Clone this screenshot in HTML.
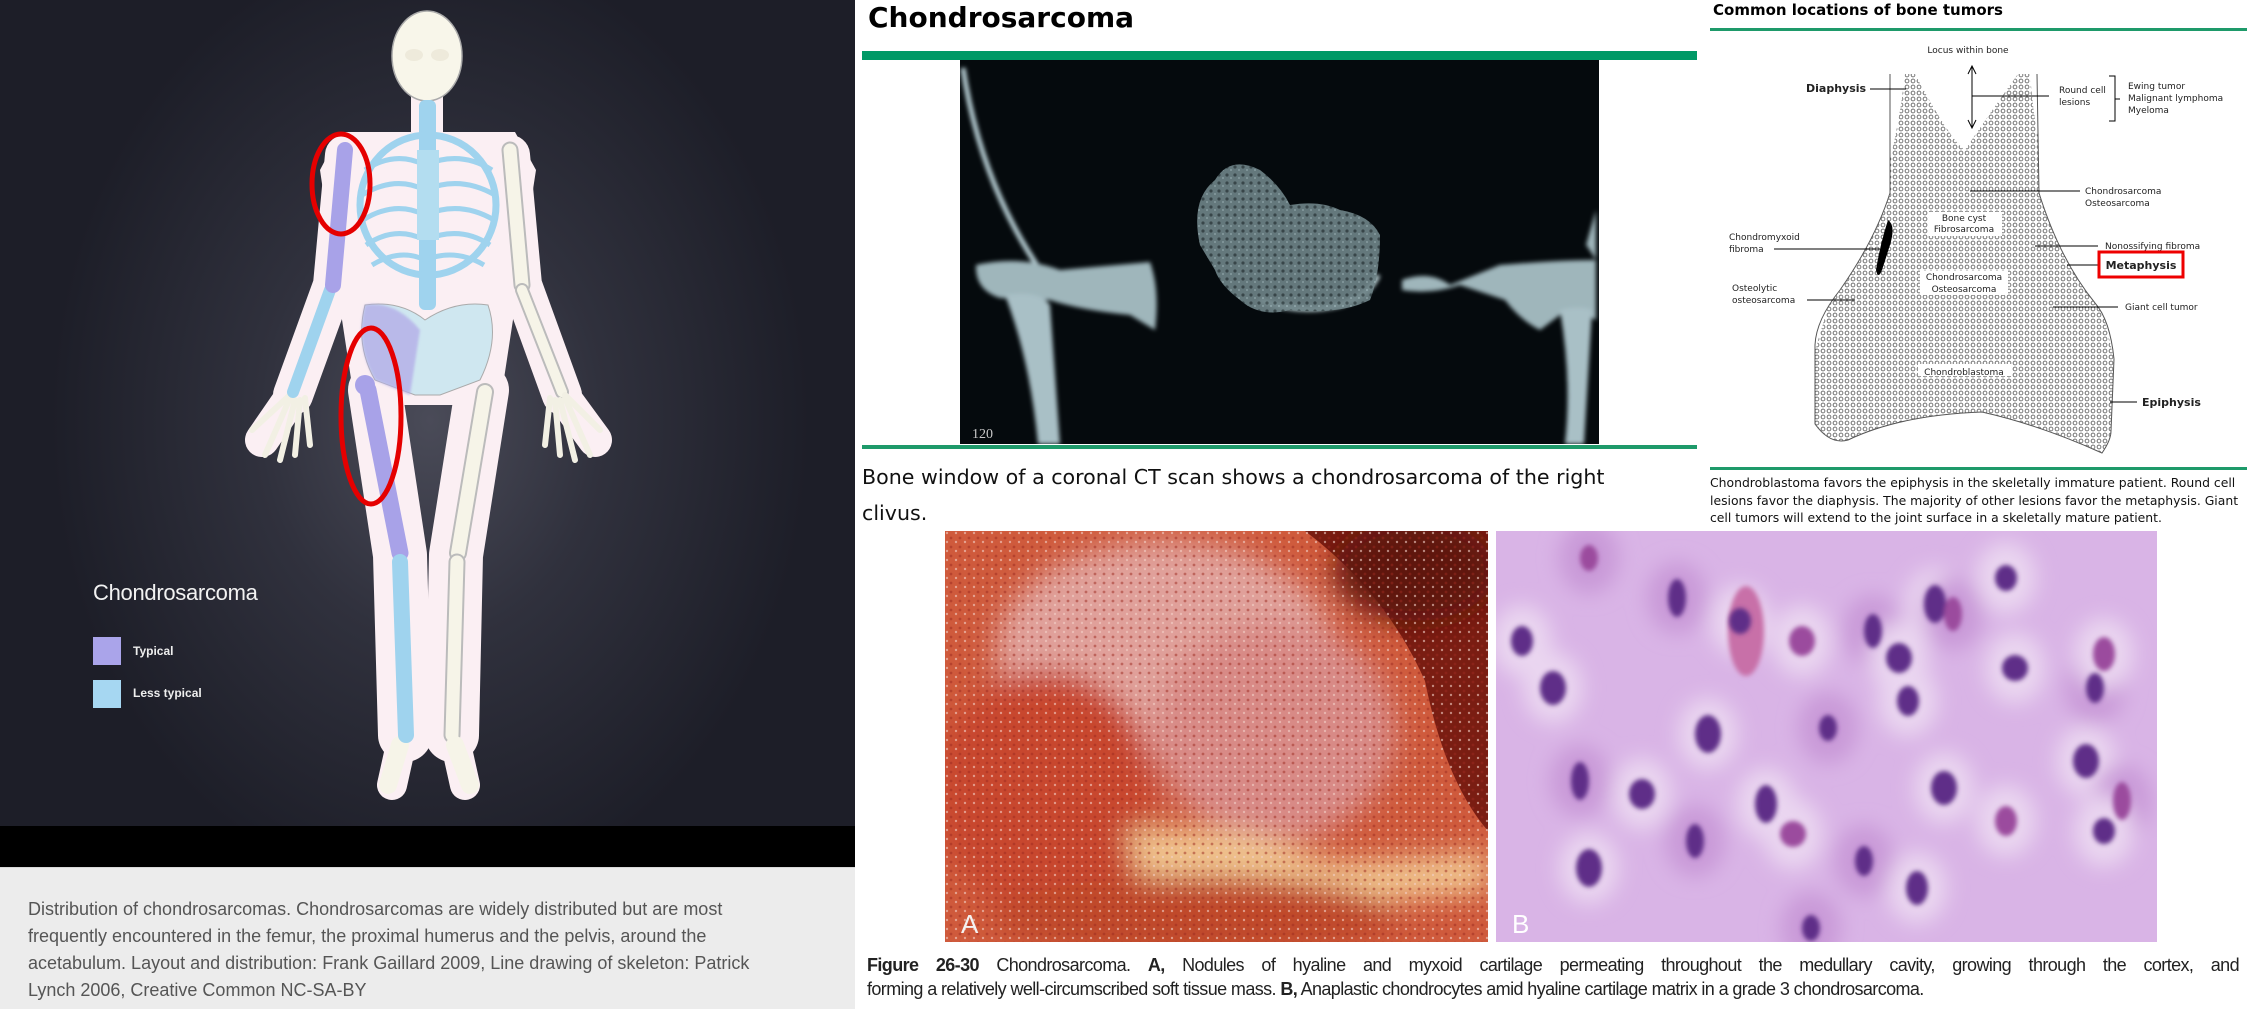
<!DOCTYPE html>
<html><head><meta charset="utf-8">
<style>
html,body{margin:0;padding:0;width:2253px;height:1009px;overflow:hidden;background:#fff;position:relative;font-family:"Liberation Sans",sans-serif}
.abs{position:absolute}
.vd{font-family:"DejaVu Sans","Liberation Sans",sans-serif}
</style></head><body>

<!-- LEFT PANEL -->
<div class="abs" style="left:0;top:0;width:855px;height:826px;background:radial-gradient(ellipse 380px 480px at 430px 420px,#4a4b58 0%,#30313d 45%,#1d1e28 100%)">
<svg width="855" height="826">
 <defs><filter id="sb"><feGaussianBlur stdDeviation="1.2"/></filter></defs>
 <g fill="none" stroke="#fbeff3" stroke-linecap="round" stroke-linejoin="round">
  <polyline points="345,155 333,285 293,395" stroke-width="40"/>
  <polyline points="510,155 522,285 562,395" stroke-width="40"/>
  <polyline points="293,395 262,440" stroke-width="34"/>
  <polyline points="562,395 595,440" stroke-width="34"/>
  <polyline points="375,390 400,555 405,735" stroke-width="54"/>
  <polyline points="482,390 456,555 452,735" stroke-width="54"/>
  <polyline points="402,740 392,785" stroke-width="30"/>
  <polyline points="455,740 465,785" stroke-width="30"/>
 </g>
 <polygon points="340,132 515,132 536,170 516,300 500,405 355,405 339,300 320,170" fill="#fbeff3"/>
 <rect x="411" y="90" width="32" height="50" fill="#fbeff3"/>
 <ellipse cx="427" cy="56" rx="35" ry="45" fill="#f8f6ea" stroke="#aaa" stroke-width="1.5"/>
 <ellipse cx="414" cy="55" rx="9" ry="6" fill="#eeeadb"/><ellipse cx="440" cy="55" rx="9" ry="6" fill="#eeeadb"/>
 <rect x="419" y="100" width="17" height="210" rx="6" fill="#9fd3ee"/>
 <ellipse cx="428" cy="205" rx="68" ry="70" fill="none" stroke="#9fd3ee" stroke-width="7"/>
 <g stroke="#9fd3ee" stroke-width="5" fill="none">
  <path d="M365,170 Q395,150 425,165 Q460,150 492,170"/><path d="M362,195 Q395,175 425,190 Q460,175 495,195"/>
  <path d="M363,220 Q395,200 425,215 Q460,200 494,220"/><path d="M366,245 Q395,225 425,240 Q460,225 490,245"/>
  <path d="M372,265 Q400,248 425,260 Q455,248 484,265"/>
 </g>
 <rect x="417" y="150" width="22" height="90" fill="#b3ddf0"/>
 <path d="M365,305 Q400,300 425,320 Q455,300 488,305 Q500,340 480,380 L440,395 L415,395 L375,380 Q355,345 365,305Z" fill="#cfe7f0" stroke="#aaa" stroke-width="1"/>
 <path d="M365,305 Q395,300 420,330 L410,395 L375,380 Q355,345 365,305Z" fill="#b4aee8" opacity="0.8" filter="url(#sb)"/>
 <g fill="none" stroke-linecap="round">
  <polyline points="510,150 522,285" stroke="#bbb" stroke-width="17"/><polyline points="510,150 522,285" stroke="#f6f4e8" stroke-width="13"/>
  <polyline points="522,290 562,392" stroke="#bbb" stroke-width="14"/><polyline points="522,290 562,392" stroke="#f6f4e8" stroke-width="10"/>
  <polyline points="485,392 458,553" stroke="#bbb" stroke-width="18"/><polyline points="485,392 458,553" stroke="#f6f4e8" stroke-width="14"/>
  <polyline points="457,562 452,735" stroke="#bbb" stroke-width="17"/><polyline points="457,562 452,735" stroke="#f6f4e8" stroke-width="13"/>
  <polyline points="455,745 470,785" stroke="#f6f4e8" stroke-width="18"/>
  <polyline points="400,745 388,785" stroke="#f6f4e8" stroke-width="18"/>
  <path d="M565,395 L600,430 M565,398 L590,455 M560,400 L575,460 M555,400 L560,455 M550,398 L545,445" stroke="#f2f0e4" stroke-width="6"/>
  <path d="M290,395 L252,430 M290,398 L265,455 M295,400 L280,460 M300,400 L295,455 M305,398 L310,445" stroke="#f2f0e4" stroke-width="6"/>
  <polyline points="330,290 293,392" stroke="#9fd3ee" stroke-width="12"/>
 </g>
 <g fill="none" stroke-linecap="round">
  <polyline points="345,150 333,285" stroke="#a8a2e8" stroke-width="16"/>
  <polyline points="368,390 400,553" stroke="#a8a2e8" stroke-width="17"/>
  <circle cx="365" cy="385" r="10" fill="#a8a2e8" stroke="none"/>
  <polyline points="400,562 406,735" stroke="#9fd3ee" stroke-width="16"/>
 </g>
 <ellipse cx="341" cy="184" rx="29" ry="50" fill="none" stroke="#e50000" stroke-width="5"/>
 <ellipse cx="371" cy="416" rx="30" ry="88" fill="none" stroke="#e50000" stroke-width="5"/>
</svg>
<div class="abs" style="left:93px;top:580px;color:#f2f2f2;font-size:22px;letter-spacing:-0.3px">Chondrosarcoma</div>
<div class="abs" style="left:93px;top:637px;width:28px;height:28px;background:#aaa4ea"></div>
<div class="abs" style="left:133px;top:644px;color:#eee;font-size:12px;font-weight:bold">Typical</div>
<div class="abs" style="left:93px;top:680px;width:28px;height:28px;background:#a6d7f2"></div>
<div class="abs" style="left:133px;top:686px;color:#eee;font-size:12px;font-weight:bold">Less typical</div>
</div>
<div class="abs" style="left:0;top:826px;width:855px;height:41px;background:#000"></div>
<div class="abs" style="left:0;top:867px;width:855px;height:142px;background:#ececec;border-top:1px solid #d8d8d8">
 <div style="position:absolute;left:28px;top:28px;width:800px;font-size:18px;line-height:27px;color:#555">Distribution of chondrosarcomas. Chondrosarcomas are widely distributed but are most<br>frequently encountered in the femur, the proximal humerus and the pelvis, around the<br>acetabulum. Layout and distribution: Frank Gaillard 2009, Line drawing of skeleton: Patrick<br>Lynch 2006, Creative Common NC-SA-BY</div>
</div>

<!-- CT SECTION -->
<div class="abs vd" style="left:868px;top:1px;font-size:28px;font-weight:bold;color:#000">Chondrosarcoma</div>
<div class="abs" style="left:862px;top:51px;width:835px;height:9px;background:#009966"></div>
<div class="abs" style="left:960px;top:60px;width:639px;height:384px;background:#050a0d;overflow:hidden">
<svg width="639" height="384">
 <defs><filter id="cb"><feGaussianBlur stdDeviation="2"/></filter>
 <pattern id="tx" width="8" height="8" patternUnits="userSpaceOnUse"><rect width="8" height="8" fill="#6f8488"/><circle cx="3" cy="3" r="1.6" fill="#3e4d50"/><circle cx="7" cy="6" r="1" fill="#95acb0"/></pattern></defs>
 <g filter="url(#cb)">
  <path d="M3,8 Q20,120 78,207" stroke="#b8cfd5" stroke-width="5" fill="none"/>
  <path d="M16,205 Q60,195 100,210 L190,202 Q200,230 195,270 L170,255 Q120,250 90,240 L40,238 Q15,230 16,205Z" fill="#9fb6bb"/>
  <path d="M45,235 Q80,230 90,245 L100,384 L78,384 Q70,300 45,235Z" fill="#a9c0c6"/>
  <path d="M300,240 Q340,255 380,245 Q410,235 418,215" stroke="#c4dade" stroke-width="5" fill="none"/>
  <path d="M442,220 Q470,210 490,225 L540,205 Q600,200 636,200 L636,260 Q620,250 600,255 L580,270 Q560,260 545,240 L500,225 Q470,235 442,230Z" fill="#9fb6bb"/>
  <path d="M600,250 Q620,245 632,250 L624,384 L605,384 Q612,320 600,250Z" fill="#a9c0c6"/>
  <path d="M636,150 L636,200 Q630,190 626,185Z" fill="#9fb6bb"/>
 </g>
 <path d="M240,185 Q230,140 255,120 Q270,95 300,110 Q320,125 330,145 Q360,140 380,150 Q410,155 420,175 Q420,215 410,240 Q380,255 330,250 Q300,258 280,240 Q260,225 255,210Z" fill="url(#tx)" opacity="0.9"/>
 <text x="12" y="378" font-family="Liberation Serif,serif" font-size="14" fill="#c8c8c8">120</text>
</svg>
</div>
<div class="abs" style="left:862px;top:445px;width:835px;height:4px;background:#1e9a6a"></div>
<div class="abs vd" style="left:862px;top:459px;width:840px;font-size:20.6px;line-height:36px;color:#111">Bone window of a coronal CT scan shows a chondrosarcoma of the right<br>clivus.</div>

<!-- BONE DIAGRAM -->
<div class="abs vd" style="left:1713px;top:1px;font-size:15px;font-weight:bold;color:#000">Common locations of bone tumors</div>
<div class="abs" style="left:1710px;top:28px;width:537px;height:3px;background:#1e9a6a"></div>
<svg class="abs" style="left:1700px;top:30px" width="553" height="440" font-family="DejaVu Sans,sans-serif" font-size="9" fill="#222">
 <defs>
  <pattern id="st" width="6" height="6" patternUnits="userSpaceOnUse"><circle cx="3" cy="3" r="1.9" fill="none" stroke="#666" stroke-width="0.9"/></pattern>
  <clipPath id="bc"><path d="M190,44 L190,163 Q175,210 140,260 Q116,290 115,315 L115,394 Q130,415 148,410 Q200,385 282,382 Q340,395 402,423 Q411,410 411,401 L414,329 Q410,290 395,273 Q360,230 339,163 L337,44Z"/></clipPath>
 </defs>
 <path d="M190,44 L190,163 Q175,210 140,260 Q116,290 115,315 L115,394 Q130,415 148,410 Q200,385 282,382 Q340,395 402,423 Q411,410 411,401 L414,329 Q410,290 395,273 Q360,230 339,163 L337,44" fill="#fff" stroke="#555" stroke-width="1"/>
 <g clip-path="url(#bc)"><path d="M205,44 L215,44 Q250,110 265,120 Q285,90 318,44 L330,44 Q340,180 400,270 L440,440 L80,440 L130,270 Q190,180 205,44Z" fill="url(#st)"/></g>
 <path d="M188,190 Q196,195 190,215 L182,240 Q178,250 176,240 Q180,215 188,190Z" fill="#000"/>
 <text x="268" y="23" text-anchor="middle">Locus within bone</text>
 <path d="M272,36 L272,98 M268,44 L272,36 L276,44 M268,90 L272,98 L276,90" stroke="#000" fill="none"/>
 <text x="106" y="62" font-weight="bold" font-size="11">Diaphysis</text><line x1="170" y1="59" x2="206" y2="59" stroke="#000"/>
 <line x1="272" y1="66" x2="349" y2="66" stroke="#000"/>
 <text x="359" y="63">Round cell</text><text x="359" y="75">lesions</text>
 <path d="M409,46 L415,46 L415,91 L409,91 M415,69 L420,69" stroke="#000" fill="none"/>
 <text x="428" y="59">Ewing tumor</text><text x="428" y="71">Malignant lymphoma</text><text x="428" y="83">Myeloma</text>
 <line x1="270" y1="161" x2="380" y2="161" stroke="#000"/><text x="385" y="164">Chondrosarcoma</text><text x="385" y="176">Osteosarcoma</text>
 <rect x="228" y="182" width="74" height="24" fill="#fff"/>
 <text x="264" y="191" text-anchor="middle">Bone cyst</text><text x="264" y="202" text-anchor="middle">Fibrosarcoma</text>
 <text x="29" y="210">Chondromyxoid</text><text x="29" y="222">fibroma</text><line x1="74" y1="219" x2="180" y2="219" stroke="#000"/>
 <line x1="335" y1="216" x2="398" y2="216" stroke="#000"/><text x="405" y="219">Nonossifying fibroma</text>
 <line x1="367" y1="235" x2="398" y2="235" stroke="#000"/>
 <rect x="399" y="222" width="84" height="25" fill="#fff" stroke="#e00" stroke-width="3"/>
 <text x="441" y="239" text-anchor="middle" font-weight="bold" font-size="11">Metaphysis</text>
 <rect x="220" y="241" width="88" height="24" fill="#fff"/>
 <text x="264" y="250" text-anchor="middle">Chondrosarcoma</text><text x="264" y="262" text-anchor="middle">Osteosarcoma</text>
 <text x="32" y="261">Osteolytic</text><text x="32" y="273">osteosarcoma</text><line x1="107" y1="270" x2="155" y2="270" stroke="#000"/>
 <line x1="353" y1="277" x2="418" y2="277" stroke="#000"/><text x="425" y="280">Giant cell tumor</text>
 <rect x="218" y="334" width="94" height="12" fill="#fff"/><text x="264" y="345" text-anchor="middle">Chondroblastoma</text>
 <line x1="410" y1="372" x2="437" y2="372" stroke="#000"/><text x="442" y="376" font-weight="bold" font-size="11">Epiphysis</text>
</svg>
<div class="abs" style="left:1710px;top:467px;width:537px;height:3px;background:#1e9a6a"></div>
<div class="abs vd" style="left:1710px;top:474px;width:545px;font-size:12.4px;line-height:17.6px;color:#111;white-space:nowrap">Chondroblastoma favors the epiphysis in the skeletally immature patient. Round cell<br>lesions favor the diaphysis. The majority of other lesions favor the metaphysis. Giant<br>cell tumors will extend to the joint surface in a skeletally mature patient.</div>

<!-- PHOTO A -->
<div class="abs" style="left:945px;top:531px;width:543px;height:411px;overflow:hidden;background:#cf5a3c">
<svg width="543" height="411">
 <defs><filter id="pb"><feGaussianBlur stdDeviation="14"/></filter>
 <pattern id="sp" width="9" height="9" patternUnits="userSpaceOnUse"><circle cx="2" cy="2" r="1.2" fill="#f4d0c8" opacity="0.6"/><circle cx="6" cy="7" r="1.4" fill="#9c2a20" opacity="0.5"/></pattern></defs>
 <path d="M360,0 L543,0 L543,300 Q500,250 480,150 Q440,60 360,0Z" fill="#7a1d12"/>
 <g filter="url(#pb)">
  <ellipse cx="220" cy="120" rx="170" ry="110" fill="#e0a09a"/>
  <ellipse cx="330" cy="200" rx="120" ry="110" fill="#d88a86"/>
  <ellipse cx="100" cy="260" rx="110" ry="120" fill="#c8472f"/>
  <path d="M180,300 Q300,290 380,330 Q460,330 543,320 L543,360 Q450,370 380,370 Q290,350 200,360Z" fill="#f1c58e"/>
  <ellipse cx="250" cy="385" rx="200" ry="40" fill="#c04a2a"/>
  <ellipse cx="470" cy="40" rx="80" ry="50" fill="#5e140c"/>
 </g>
 <rect width="543" height="411" fill="url(#sp)"/>
 <text x="16" y="402" font-size="26" fill="#f3f3f3" font-family="Liberation Sans,sans-serif">A</text>
</svg>
</div>

<!-- PHOTO B -->
<div class="abs" style="left:1496px;top:531px;width:661px;height:411px;overflow:hidden;background:#d9b4e6">
<svg width="661" height="411" id="histo">
 <defs><filter id="hb"><feGaussianBlur stdDeviation="2.5"/></filter><filter id="hb2"><feGaussianBlur stdDeviation="10"/></filter></defs>
 <g filter="url(#hb2)" id="halos"></g>
 <ellipse cx="250" cy="100" rx="18" ry="45" fill="#c86fa8" filter="url(#hb)"/>
 <g filter="url(#hb)" id="nuclei"></g>
 <text x="16" y="402" font-size="26" fill="#fff" font-family="Liberation Sans,sans-serif">B</text>
</svg>
</div>

<div class="abs" style="left:867px;top:953px;width:1372px;font-size:18px;line-height:24px;color:#222">
<div style="text-align:justify;text-align-last:justify;letter-spacing:-0.6px"><b>Figure 26-30</b> Chondrosarcoma. <b>A,</b> Nodules of hyaline and myxoid cartilage permeating throughout the medullary cavity, growing through the cortex, and</div>
<div style="letter-spacing:-0.6px">forming a relatively well-circumscribed soft tissue mass. <b>B,</b> Anaplastic chondrocytes amid hyaline cartilage matrix in a grade 3 chondrosarcoma.</div>
</div>

<script>
var nucX=[93,26,57,181,244,306,377,439,519,599,608,212,332,412,590,626,608,146,199,270,297,368,421,93,315,510,448,84,510,403,457];
var nucY=[27,110,157,67,90,110,100,73,137,157,123,203,197,170,230,270,300,263,310,273,303,330,357,337,397,290,257,250,47,127,83];
var ns='http://www.w3.org/2000/svg';
var halos=document.getElementById('halos'),nuc=document.getElementById('nuclei');
for(var i=0;i<nucX.length;i++){
 var h=document.createElementNS(ns,'ellipse');
 h.setAttribute('cx',nucX[i]);h.setAttribute('cy',nucY[i]);h.setAttribute('rx',30);h.setAttribute('ry',36);h.setAttribute('fill',i%3?'#ead6f0':'#c99ad8');
 
 
 halos.appendChild(h);
 var e=document.createElementNS(ns,'ellipse');
 e.setAttribute('cx',nucX[i]);e.setAttribute('cy',nucY[i]);e.setAttribute('rx',9+(i%3)*2);e.setAttribute('ry',13+(i%4)*2);e.setAttribute('fill',i%5==0?'#9b4c9e':'#5e2f88');
 
 
 nuc.appendChild(e);
}
</script>
</body></html>
